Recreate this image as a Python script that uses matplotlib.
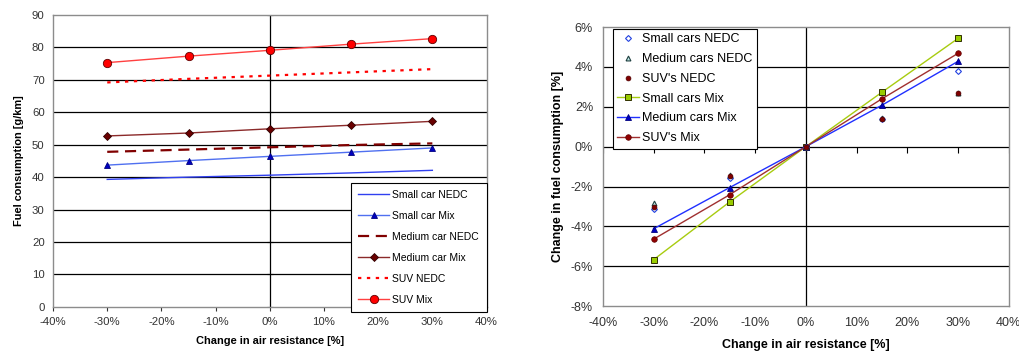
import matplotlib.pyplot as plt
import matplotlib.ticker as mtick
import numpy as np

plt.rcParams['font.family'] = ['Liberation Sans', 'DejaVu Sans']

# Change in air resistance [%]
x = [-30, -15, 0, 15, 30]

# Left chart: fuel consumption [g/km]
small_nedc = [39.3, 40.0, 40.6, 41.3, 42.1]
small_mix = [43.7, 45.1, 46.4, 47.7, 49.0]
medium_nedc = [47.8, 48.5, 49.2, 49.9, 50.4]
medium_mix = [52.7, 53.6, 54.9, 56.0, 57.2]
suv_nedc = [69.2, 70.3, 71.3, 72.3, 73.3]
suv_mix = [75.3, 77.3, 79.1, 81.0, 82.7]

# Right chart: change in fuel consumption [%]
small_nedc_pct = [-3.14, -1.56, 0.0, 1.39, 3.82]
medium_nedc_pct = [-2.83, -1.44, 0.0, 1.43, 2.70]
suv_nedc_pct = [-3.02, -1.49, 0.0, 1.37, 2.67]
small_mix_pct = [-5.67, -2.77, 0.0, 2.73, 5.43]
medium_mix_pct = [-4.12, -2.05, 0.0, 2.08, 4.28]
suv_mix_pct = [-4.64, -2.41, 0.0, 2.40, 4.68]

x_ticks = [-40, -30, -20, -10, 0, 10, 20, 30, 40]
left_yticks = list(range(0, 91, 10))
right_yticks = [-8, -6, -4, -2, 0, 2, 4, 6]

fig = plt.figure(figsize=(10.2, 3.56), dpi=100)
ax1 = fig.add_axes([0.052, 0.138, 0.425, 0.820])
ax2 = fig.add_axes([0.591, 0.140, 0.398, 0.784])

pct = mtick.FuncFormatter(lambda v, p: f'{v:.0f}%')


def style_axes(ax, yticks, fs, xpad, ypad):
    ax.set_xlim(-40, 40)
    ax.set_xticks(x_ticks)
    ax.set_yticks(yticks)
    ax.set_ylim(yticks[0], yticks[-1])
    ax.xaxis.set_major_formatter(pct)
    for s in ax.spines.values():
        s.set_color('#8c8c8c')
        s.set_linewidth(1.0)
    ax.tick_params(axis='both', labelsize=fs, colors='#333333', length=3, width=0.8,
                   direction='out')
    ax.tick_params(axis='x', pad=xpad)
    ax.tick_params(axis='y', length=0, pad=ypad)
    for yv in yticks[1:-1]:
        ax.axhline(yv, color='black', lw=0.9, zorder=1)
    ax.axvline(0, color='black', lw=0.9, zorder=1)


# ---- left chart
style_axes(ax1, left_yticks, 8.2, 4, 6)
ax1.plot([0] * len(left_yticks), left_yticks, ls='none', marker='_', ms=5, color='black', mew=0.8)
ax1.plot(x, small_nedc, color='#3040f0', lw=1.0, label='Small car NEDC', zorder=3)
ax1.plot(x, small_mix, color='#5070f0', lw=1.0, marker='^', ms=5, mfc='#0000c0', mec='#000080',
         mew=0.6, label='Small car Mix', zorder=3)
ax1.plot(x, medium_nedc, color='#800000', lw=1.6, ls=(0, (5, 3)), label='Medium car NEDC', zorder=3)
ax1.plot(x, medium_mix, color='#8b2a2a', lw=1.0, marker='D', ms=4.5, mfc='#6a0000', mec='#300000',
         mew=0.6, label='Medium car Mix', zorder=3)
ax1.plot(x, suv_nedc, color='#ff0000', lw=1.6, ls=(0, (1.5, 2.5)), label='SUV NEDC', zorder=3)
ax1.plot(x, suv_mix, color='#ff4040', lw=1.0, marker='o', ms=6, mfc='#ff0000', mec='#600000',
         mew=0.6, label='SUV Mix', zorder=3)
ax1.yaxis.set_major_formatter(mtick.FormatStrFormatter('%d'))
ax1.set_xlabel('Change in air resistance [%]', fontsize=7.9, fontweight='bold', labelpad=7)
ax1.set_ylabel('Fuel consumption [g/km]', fontsize=7.9, fontweight='bold', labelpad=6)
leg1 = ax1.legend(loc='lower right', bbox_to_anchor=(1.0, -0.017), fontsize=7.5, frameon=True,
                  fancybox=False, edgecolor='black', framealpha=1, handlelength=3.0,
                  labelspacing=1.05, borderpad=0.7, handletextpad=0.3, borderaxespad=0)
leg1.get_frame().set_linewidth(0.8)

# ---- right chart
style_axes(ax2, right_yticks, 9, 8, 7)
ax2.yaxis.set_major_formatter(pct)
ax2.tick_params(axis='x', length=0)
ax2.plot(x_ticks, [0] * len(x_ticks), ls='none', marker=3, ms=4, color='black', mew=0.8)
ax2.plot(x, small_nedc_pct, ls='none', marker='D', ms=3, mfc='white', mec='#2040e0', mew=0.8,
         label='Small cars NEDC', zorder=4)
ax2.plot(x, medium_nedc_pct, ls='none', marker='^', ms=3.5, mfc='#c0e8e8', mec='#204040', mew=0.8,
         label='Medium cars NEDC', zorder=4)
ax2.plot(x, suv_nedc_pct, ls='none', marker='o', ms=3.5, mfc='#800000', mec='#500000', mew=0.5,
         label="SUV's NEDC", zorder=5)
ax2.plot(x, small_mix_pct, color='#a8cc10', lw=1.0, marker='s', ms=4, mfc='#99cc00', mec='#303000',
         mew=0.7, label='Small cars Mix', zorder=3)
ax2.plot(x, medium_mix_pct, color='#2030ff', lw=1.0, marker='^', ms=4.5, mfc='#0000c0', mec='#000080',
         mew=0.6, label='Medium cars Mix', zorder=3)
ax2.plot(x, suv_mix_pct, color='#a03030', lw=1.0, marker='o', ms=4, mfc='#900000', mec='#600000',
         mew=0.5, label="SUV's Mix", zorder=3)
ax2.set_xlabel('Change in air resistance [%]', fontsize=9, fontweight='bold', labelpad=7)
ax2.set_ylabel('Change in fuel consumption [%]', fontsize=9, fontweight='bold', labelpad=5)
leg2 = ax2.legend(loc='upper left', bbox_to_anchor=(0.025, 0.993), fontsize=9, frameon=True,
                  fancybox=False, edgecolor='black', framealpha=1, handlelength=1.7,
                  labelspacing=0.62, borderpad=0.35, handletextpad=0.3, borderaxespad=0)
leg2.get_frame().set_linewidth(0.8)

fig.savefig('out.png', dpi=100)
